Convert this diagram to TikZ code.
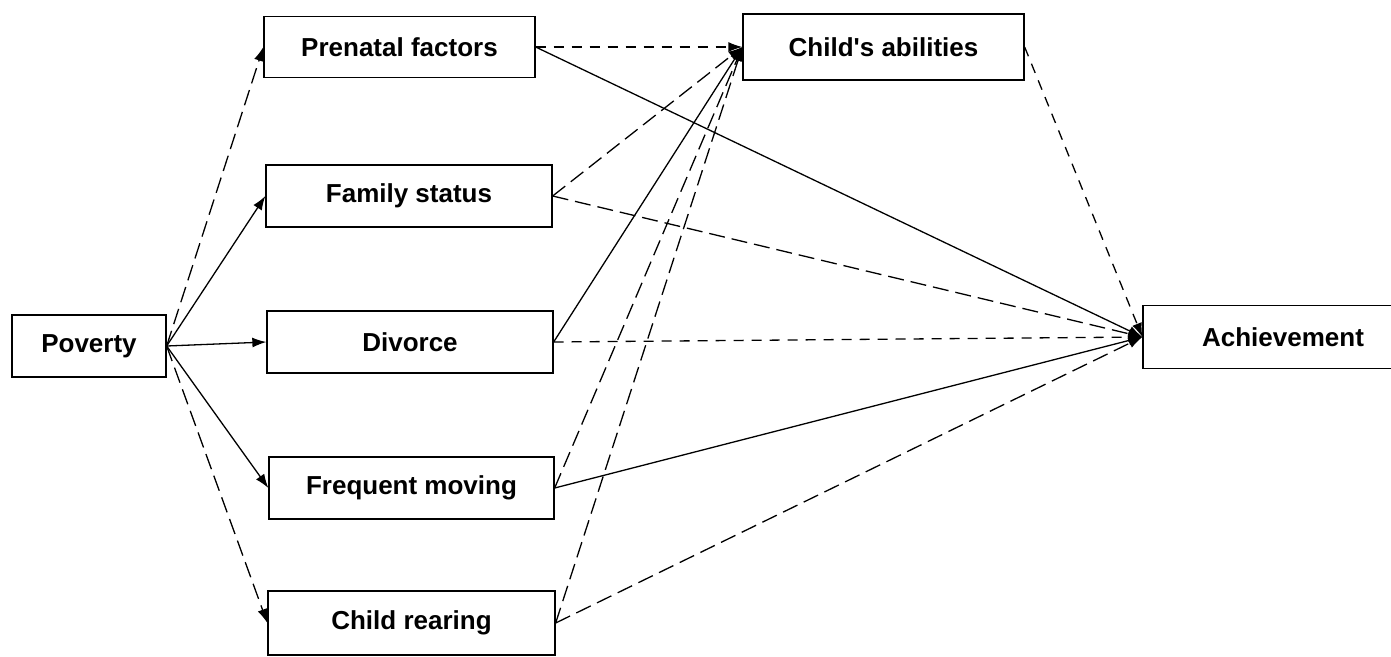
\documentclass[tikz,border=0pt]{standalone}
\usepackage{fontspec}
\newfontfamily\boxfont{Liberation Sans}
\usetikzlibrary{arrows.meta}
\begin{document}
\begin{tikzpicture}[x=1pt,y=-1pt,
  box/.style={draw, line width=1.3pt, font=\boxfont\bfseries\fontsize{26}{30}\selectfont, inner sep=0pt, minimum height=62pt},
  conn/.style={line width=1.3pt, -{Latex[length=14pt,width=10pt]}},
  dsh/.style={dash pattern=on 16pt off 7pt},
  dshs/.style={dash pattern=on 10pt off 8pt}
]
\useasboundingbox (0,0) rectangle (1391,656);
\clip (0,0) rectangle (1391,656);
\fill[white] (0,0) rectangle (1391,656);
\node[box, minimum width=154pt] (pov) at (89,346) {Poverty};
\node[box, minimum width=271pt, minimum height=61pt] (pre) at (399.5,47) {Prenatal factors};
\node[box, minimum width=286pt] (fam) at (409,196) {Family status};
\node[box, minimum width=286pt] (div) at (410,342) {Divorce};
\node[box, minimum width=285pt] (fre) at (411.5,488) {Frequent moving};
\node[box, minimum width=287pt, minimum height=64pt] (chr) at (411.5,623) {Child rearing};
\node[box, minimum width=281pt, minimum height=66pt] (ca) at (883.5,47) {Child's abilities};
\node[box, minimum width=280pt, minimum height=63pt] (ach) at (1283,337) {Achievement};
% Poverty to factors
\draw[conn, dsh] (pov.east) -- (pre.west);
\draw[conn] (pov.east) -- (fam.west);
\draw[conn] (pov.east) -- (div.west);
\draw[conn] (pov.east) -- (fre.west);
\draw[conn, dsh] (pov.east) -- (chr.west);
% factors to child's abilities
\draw[conn, dshs] (pre.east) -- (ca.west);
\draw[conn, dsh] (fam.east) -- (ca.west);
\draw[conn] (div.east) -- (ca.west);
\draw[conn, dsh] (fre.east) -- (ca.west);
\draw[conn, dsh] (chr.east) -- (ca.west);
% factors to achievement
\draw[conn] (pre.east) -- (ach.west);
\draw[conn, dsh] (fam.east) -- (ach.west);
\draw[conn, dshs] (div.east) -- (ach.west);
\draw[conn] (fre.east) -- (ach.west);
\draw[conn, dsh] (chr.east) -- (ach.west);
\draw[conn, dshs] (ca.east) -- (ach.west);
\end{tikzpicture}
\end{document}
